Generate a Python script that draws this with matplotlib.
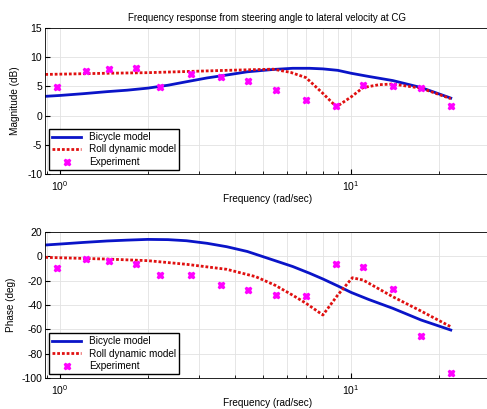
import numpy as np
import matplotlib
matplotlib.use("Agg")
import matplotlib.pyplot as plt

plt.rcParams['font.family'] = ['Liberation Sans', 'DejaVu Sans']
plt.rcParams['axes.unicode_minus'] = False

# experiment points
f_exp = [0.98, 1.23, 1.47, 1.83, 2.21, 2.82, 3.56, 4.42, 5.54, 7.02, 8.9, 11.0, 13.9, 17.4, 22.0]
mag_exp = [4.9, 7.7, 7.9, 8.2, 4.9, 7.1, 6.6, 5.9, 4.3, 2.7, 1.6, 5.2, 5.1, 4.8, 1.6]
ph_exp = [-10, -2.6, -4.3, -6.2, -15.5, -15.5, -23.9, -28, -31.8, -32.4, -6.7, -9.2, -26.9, -65.3, -95.4]

# bicycle model
f_bic = [0.89, 1.0, 1.2, 1.45, 1.7, 2.0, 2.35, 2.72, 3.2, 3.74, 4.4, 5.4, 6.3, 7.2, 8.0, 9.0, 10.0,
         11.5, 13.9, 17.4, 22.0]
mag_bic = [3.3, 3.45, 3.75, 4.1, 4.35, 4.7, 5.2, 5.8, 6.45, 6.95, 7.5, 7.9, 8.1, 8.1, 8.0, 7.75, 7.25,
           6.7, 6.0, 4.8, 3.0]
ph_bic = [9.1, 9.9, 11.2, 12.4, 13.1, 13.7, 13.5, 12.6, 10.5, 7.7, 3.8, -3.2, -8.5, -14.0, -18.7, -24.4,
          -29.7, -35.5, -42.7, -52.3, -60.5]

# roll dynamic model
f_roll = [0.89, 1.45, 2.0, 2.72, 3.74, 5.4, 6.2, 7.0, 8.0, 8.9, 10.0, 11.0, 12.5, 13.9, 17.4, 22.0]
mag_roll = [7.05, 7.25, 7.35, 7.55, 7.75, 7.95, 7.4, 6.5, 3.8, 1.5, 3.2, 4.8, 5.3, 5.4, 4.7, 2.9]
f_roll_ph = [0.89, 1.45, 2.0, 2.72, 3.74, 4.7, 5.5, 6.3, 7.0, 8.0, 9.0, 10.1, 11.0, 13.9, 17.4, 22.0]
ph_roll = [-1.0, -2.4, -3.7, -6.7, -10.8, -16.8, -24.0, -32.0, -38.6, -48.2, -31.8, -17.7, -19.6,
           -33.2, -45.0, -57.8]

title = "Frequency response from steering angle to lateral velocity at CG"
fs = 7.2

fig = plt.figure(figsize=(4.87, 4.09), dpi=100)
ax1 = fig.add_axes([45/487, 1-174/409, 445/487, 146/409])
ax2 = fig.add_axes([45/487, 1-378.3/409, 445/487, 146.6/409])

blue = "#0a14c8"
red = "#e01010"
mag = "#ff00ff"

for ax, fr, yb, fr2, yr, ye in [(ax1, f_bic, mag_bic, f_roll, mag_roll, mag_exp),
                               (ax2, f_bic, ph_bic, f_roll_ph, ph_roll, ph_exp)]:
    ax.semilogx(fr, yb, color=blue, lw=2, label="Bicycle model")
    ax.semilogx(fr2, yr, color=red, lw=2, ls=(0, (1, 0.7)), label="Roll dynamic model")
    ax.semilogx(f_exp, ye, ls="none", marker="X", ms=4.5, color=mag, mec=mag, label="Experiment")
    ax.set_xlim(0.888, 30)
    ax.grid(True, which="both", color="#e2e2e2", lw=0.6, ls="-")
    ax.tick_params(which="both", direction="in", labelsize=fs + 0.3, top=False, right=False)
    ax.tick_params(axis="y", pad=2)
    ax.set_xlabel("Frequency (rad/sec)", fontsize=fs, labelpad=1)
    ax.legend(loc="lower left", fontsize=fs, fancybox=False, edgecolor="black",
              framealpha=1, handlelength=2.9, borderaxespad=0.4, borderpad=0.3,
              labelspacing=0.25, numpoints=1)
    for s in ax.spines.values():
        s.set_linewidth(0.6)

ax1.set_ylim(-10, 15)
ax1.set_yticks([-10, -5, 0, 5, 10, 15])
ax1.set_ylabel("Magnitude (dB)", fontsize=fs, labelpad=5)
ax1.set_title(title, fontsize=7, pad=5)

ax2.set_ylim(-100, 20)
ax2.set_yticks([-100, -80, -60, -40, -20, 0, 20])
ax2.set_ylabel("Phase (deg)", fontsize=fs, labelpad=4)

fig.savefig("out.png", dpi=100)
